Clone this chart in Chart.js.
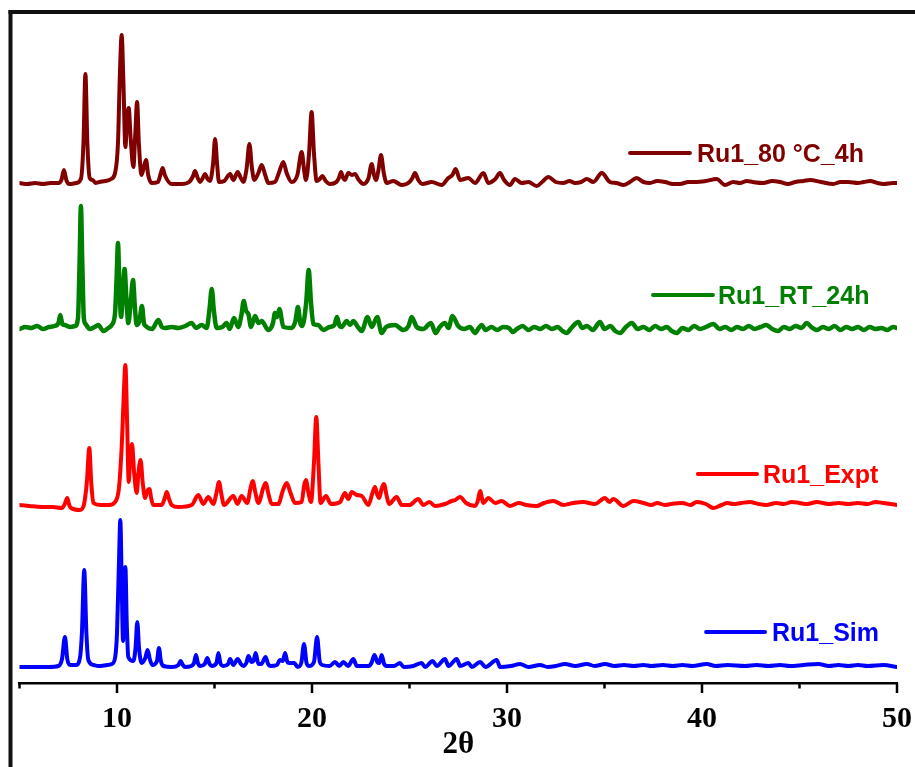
<!DOCTYPE html>
<html>
<head>
<meta charset="utf-8">
<script src="https://cdn.jsdelivr.net/npm/chart.js@4/dist/chart.umd.min.js"></script>
<style>
  html, body { margin: 0; padding: 0; background: #fff; }
  canvas { display: block; }
</style>
</head>
<body>
<canvas id="xrdChart" width="915" height="767"></canvas>
<script>
// Nombres de las series (de abajo hacia arriba)
const seriesNames = ['Ru1_Sim', 'Ru1_Expt', 'Ru1_RT_24h', 'Ru1_80 °C_4h'];
const seriesColors = ['#0000ff', '#ff0000', '#008000', '#800000'];

// Marcas del eje x (2θ)
const majorTicks = [10, 20, 30, 40, 50];
const minorTicks = [5, 15, 25, 35, 45];

// Patrones: [2θ, intensidad apilada (u.a.)]
const simPattern = [
  [5.0,16],[6.5,16],[7.0,17],[7.18,24],[7.33,46],[7.45,24],[7.6,18],[7.9,18],[8.1,25],[8.2,50],[8.32,113],[8.43,50],[8.53,23],
  [8.8,18],[9.04,17],[9.5,18],[9.73,19],[9.9,25],[10.0,50],[10.1,120],[10.17,163],[10.25,90],[10.31,42],[10.37,80],[10.43,116],
  [10.5,60],[10.58,26],[10.84,22],[10.95,35],[11.04,61],[11.13,35],[11.26,20],[11.45,25],[11.57,33],[11.68,24],[11.81,18],
  [12.05,22],[12.15,35],[12.25,22],[12.38,17],[12.8,16],[13.15,18],[13.26,22],[13.38,18],[13.49,16],[13.8,17],[13.95,20],
  [14.05,28],[14.15,20],[14.26,17],[14.5,19],[14.63,25],[14.75,19],[14.86,17],[15.1,20],[15.2,30],[15.3,20],[15.45,17],
  [15.7,19],[15.8,24],[15.97,18],[16.19,24],[16.35,19],[16.48,17],[16.63,20],[16.74,27],[16.9,21],[17.0,22],[17.11,30],
  [17.25,19],[17.4,19],[17.62,26],[17.75,19],[17.85,17],[18.2,18],[18.36,23],[18.5,22],[18.62,30],[18.72,22],[18.82,20],
  [19.09,20],[19.26,16],[19.45,20],[19.59,39],[19.72,20],[19.85,17],[20.1,21],[20.26,46],[20.4,21],[20.53,18],[20.9,17],
  [21.18,21],[21.4,17],[21.61,21],[21.85,17],[22.12,24],[22.3,17],[22.9,17],[23.05,20],[23.2,28],[23.35,21],[23.45,20],
  [23.57,28],[23.7,19],[23.85,17],[24.2,17],[24.51,20],[24.7,16],[25.2,17],[25.62,20],[25.8,16],[26.19,22],[26.4,17],
  [26.82,24],[27.0,17],[27.42,24],[27.6,17],[28.02,20],[28.2,16],[28.62,21],[28.9,16],[29.47,23],[29.65,16],[30.2,17],
  [30.67,19],[31.1,16],[31.69,18],[32.1,16],[32.5,17],[32.97,19],[33.5,17],[34.09,19],[34.5,17],[35.03,19],[35.5,17],
  [36.0,18],[36.5,17],[37.0,18],[37.4,17],[38.0,18],[38.5,17],[39.0,18],[39.5,17],[40.24,19],[40.7,17],[41.3,18],
  [42.2,17],[42.8,18],[43.4,17],[44.0,18],[44.5,17],[45.2,18],[45.97,19],[46.5,17],[47.0,18],[47.5,17],[48.0,18],
  [48.5,17],[49.3,18],[50.0,16]
];

const exptPattern = [
  [5.0,178],[5.5,177],[6.14,176],[6.7,176],[7.16,175],[7.3,178],[7.45,185],[7.55,178],[7.64,175],[8.1,173],[8.3,178],
  [8.45,200],[8.58,235],[8.68,200],[8.79,180],[9.21,178],[9.6,178],[9.9,181],[10.1,195],[10.25,240],[10.35,290],[10.43,318],
  [10.52,260],[10.6,201],[10.68,225],[10.77,239],[10.88,210],[11.01,190],[11.1,210],[11.21,223],[11.32,200],[11.44,185],
  [11.55,192],[11.66,194],[11.76,184],[11.86,178],[12.29,178],[12.45,185],[12.55,191],[12.67,184],[12.8,178],[13.15,176],
  [13.83,178],[14.17,188],[14.43,179],[14.68,186],[14.94,179],[15.1,190],[15.23,201],[15.36,188],[15.49,178],[15.97,187],
  [16.17,179],[16.39,187],[16.68,180],[16.85,195],[16.96,202],[17.1,190],[17.25,180],[17.5,195],[17.62,200],[17.78,188],
  [17.93,179],[18.27,179],[18.5,192],[18.7,200],[18.9,190],[19.13,180],[19.47,181],[19.6,198],[19.69,203],[19.8,192],
  [19.95,181],[20.1,220],[20.22,266],[20.33,220],[20.44,180],[20.72,187],[20.97,179],[21.44,181],[21.69,190],[21.86,184],
  [22.04,191],[22.29,188],[22.55,187],[22.89,178],[23.1,190],[23.23,196],[23.35,188],[23.45,185],[23.58,195],[23.69,199],
  [23.82,188],[23.95,179],[24.34,186],[24.6,178],[25.0,178],[25.45,184],[25.71,178],[26.02,181],[26.31,177],[26.82,179],
  [27.16,182],[27.35,183],[27.59,186],[27.9,180],[28.36,177],[28.5,182],[28.62,192],[28.79,180],[29.04,185],[29.4,180],
  [29.73,182],[30.15,177],[30.6,180],[31.0,178],[31.52,177],[31.9,180],[32.38,182],[32.9,178],[33.4,180],[33.91,181],
  [34.5,179],[35.03,185],[35.25,181],[35.45,184],[35.97,177],[36.48,182],[37.0,180],[37.4,178],[37.7,180],[38.1,178],
  [38.4,179],[39.0,180],[39.4,178],[39.73,181],[40.2,179],[40.58,175],[41.0,178],[41.3,180],[41.6,179],[42.0,180],
  [42.46,181],[42.9,179],[43.3,178],[43.8,180],[44.2,179],[44.6,181],[45.0,180],[45.4,179],[45.88,181],[46.5,179],
  [47.0,180],[47.5,179],[48.0,180],[48.5,179],[48.9,181],[49.3,180],[50.0,178]
];

const rtPattern = [
  [5.0,354],[5.3,356],[5.6,355],[5.9,357],[6.2,354],[6.5,356],[6.8,357],[7.0,360],[7.09,368],[7.2,359],[7.33,358],[7.6,356],
  [7.85,357],[8.0,365],[8.08,420],[8.15,477],[8.22,420],[8.3,365],[8.39,359],[8.6,354],[8.85,356],[9.04,358],[9.3,352],
  [9.55,355],[9.73,358],[9.9,370],[9.98,405],[10.05,440],[10.12,400],[10.21,366],[10.3,390],[10.39,414],[10.48,385],
  [10.58,360],[10.7,380],[10.82,403],[10.92,375],[11.01,358],[11.15,362],[11.28,377],[11.38,360],[11.47,357],[11.8,354],
  [12.12,363],[12.3,356],[12.46,355],[12.8,356],[13.15,355],[13.5,357],[13.83,360],[14.05,355],[14.34,358],[14.6,355],
  [14.75,375],[14.86,394],[14.97,372],[15.11,355],[15.4,356],[15.62,360],[15.78,354],[16.0,365],[16.22,356],[16.38,368],
  [16.5,382],[16.62,372],[16.74,369],[16.87,356],[17.08,367],[17.25,360],[17.42,362],[17.76,353],[18.0,360],[18.1,370],
  [18.2,366],[18.33,374],[18.53,356],[18.96,355],[19.15,362],[19.28,376],[19.4,360],[19.5,357],[19.7,380],[19.83,413],
  [19.95,380],[20.07,359],[20.32,358],[20.58,353],[20.9,356],[21.15,358],[21.28,366],[21.4,358],[21.52,356],[21.78,362],
  [21.95,358],[22.12,362],[22.35,356],[22.55,352],[22.85,366],[23.06,356],[23.35,366],[23.57,350],[23.8,356],[24.26,358],
  [24.68,353],[24.95,357],[25.11,366],[25.37,356],[25.7,354],[26.1,360],[26.34,350],[26.55,356],[26.82,360],[27.0,355],
  [27.2,367],[27.5,357],[27.8,354],[28.1,356],[28.36,350],[28.55,355],[28.7,358],[28.9,353],[29.2,356],[29.5,353],
  [29.8,356],[30.1,355],[30.3,351],[30.5,354],[30.8,357],[31.1,353],[31.4,356],[31.7,354],[32.0,357],[32.3,354],
  [32.6,356],[32.85,352],[33.06,350],[33.3,355],[33.66,361],[33.85,355],[34.1,357],[34.4,353],[34.77,361],[35.0,354],
  [35.3,357],[35.55,352],[35.8,350],[36.1,356],[36.4,360],[36.7,354],[37.0,356],[37.3,353],[37.6,357],[37.9,354],
  [38.2,356],[38.45,352],[38.7,350],[39.0,355],[39.3,353],[39.6,357],[39.9,354],[40.2,356],[40.58,359],[40.9,354],
  [41.2,356],[41.5,353],[41.8,356],[42.1,354],[42.4,357],[42.7,354],[43.0,356],[43.3,358],[43.6,354],[43.9,352],
  [44.2,356],[44.5,354],[44.8,357],[45.1,355],[45.37,360],[45.6,356],[45.9,353],[46.2,356],[46.5,354],[46.8,357],
  [47.1,353],[47.4,356],[47.7,354],[48.0,356],[48.3,353],[48.6,356],[48.9,354],[49.2,355],[49.5,353],[49.8,356],[50.0,355]
];

const heatPattern = [
  [5.0,500],[5.4,499],[5.8,500],[6.2,499],[6.6,500],[7.0,500],[7.15,503],[7.28,513],[7.4,503],[7.55,499],[7.9,500],
  [8.15,504],[8.28,540],[8.38,609],[8.48,540],[8.6,505],[8.75,503],[8.9,500],[9.1,501],[9.4,502],[9.7,504],[9.9,510],
  [10.05,540],[10.15,610],[10.24,648],[10.33,600],[10.43,536],[10.52,565],[10.6,575],[10.7,545],[10.84,516],[10.94,550],
  [11.03,581],[11.12,540],[11.26,508],[11.4,518],[11.49,523],[11.6,508],[11.78,500],[12.1,501],[12.25,510],[12.34,515],
  [12.45,508],[12.8,499],[13.3,499],[13.7,501],[13.9,507],[14.0,512],[14.12,506],[14.26,501],[14.4,505],[14.51,509],
  [14.65,504],[14.77,502],[14.93,520],[15.03,544],[15.13,520],[15.23,501],[15.5,502],[15.8,509],[15.97,503],[16.19,511],
  [16.35,505],[16.48,501],[16.65,515],[16.79,539],[16.92,515],[17.04,503],[17.25,510],[17.42,518],[17.6,508],[17.76,500],
  [18.1,501],[18.3,510],[18.53,521],[18.7,510],[18.96,501],[19.25,508],[19.47,531],[19.6,512],[19.69,503],[19.85,530],
  [19.98,571],[20.1,530],[20.24,502],[20.4,504],[20.53,507],[20.7,502],[20.92,499],[21.25,501],[21.38,505],[21.49,511],
  [21.6,505],[21.69,503],[21.86,510],[22.05,508],[22.2,509],[22.4,503],[22.63,499],[22.9,505],[23.06,519],[23.18,508],
  [23.28,503],[23.4,512],[23.54,528],[23.68,510],[23.83,500],[24.17,502],[24.6,498],[25.0,501],[25.15,505],[25.28,510],
  [25.45,503],[25.66,499],[26.14,501],[26.65,498],[26.99,505],[27.2,508],[27.37,514],[27.59,503],[28.02,505],[28.36,500],
  [28.79,510],[29.04,500],[29.4,504],[29.64,510],[29.85,503],[30.15,498],[30.41,504],[30.75,500],[31.1,501],[31.52,497],
  [31.8,501],[32.12,506],[32.5,501],[32.89,500],[33.2,502],[33.49,500],[33.8,501],[34.09,504],[34.43,501],[34.86,510],
  [35.28,501],[35.6,500],[35.97,498],[36.3,501],[36.65,505],[37.0,501],[37.33,500],[37.7,502],[38.1,501],[38.5,499],
  [38.87,499],[39.3,501],[39.73,501],[40.2,502],[40.75,504],[41.18,498],[41.6,501],[41.95,500],[42.3,502],[42.6,501],
  [43.14,500],[43.6,502],[44.0,501],[44.4,499],[44.8,501],[45.2,502],[45.54,503],[46.1,501],[46.73,499],[47.1,501],
  [47.5,501],[48.0,500],[48.3,501],[48.62,502],[49.0,500],[49.3,499],[49.81,500],[50.0,500]
];

const patterns = [simPattern, exptPattern, rtPattern, heatPattern];

// Posición de las etiquetas junto a cada curva (en unidades 2θ / intensidad)
const legendLayout = [
  { from: 40.21, to: 43.23, text: 43.59, level: 51 },
  { from: 39.79, to: 42.82, text: 43.13, level: 209 },
  { from: 37.49, to: 40.56, text: 40.82, level: 388 },
  { from: 36.31, to: 39.38, text: 39.74, level: 530 }
];

const serif = "'Liberation Serif', 'Times New Roman', serif";
const sans = "'Liberation Sans', Arial, sans-serif";

// Marco exterior de la figura (recortado)
const framePlugin = {
  id: 'frame',
  beforeDraw(chart) {
    const ctx = chart.ctx;
    ctx.save();
    ctx.fillStyle = '#111';
    ctx.fillRect(8.5, 10, 4, chart.height - 10);
    ctx.fillRect(8.5, 10, chart.width - 8.5, 4);
    ctx.restore();
  }
};

// Marcas del eje x: mayores largas, menores cortas
const tickPlugin = {
  id: 'ticks2theta',
  afterDraw(chart) {
    const xs = chart.scales.x;
    const ctx = chart.ctx;
    const y0 = xs.top;
    ctx.save();
    ctx.strokeStyle = '#000';
    ctx.lineWidth = 2.5;
    const mark = (v, len) => {
      const px = xs.getPixelForValue(v);
      ctx.beginPath();
      ctx.moveTo(px, y0);
      ctx.lineTo(px, y0 + len);
      ctx.stroke();
    };
    majorTicks.forEach(v => mark(v, 10));
    minorTicks.forEach(v => mark(v, 5.5));
    ctx.restore();
  }
};

// Etiquetas de cada serie dibujadas junto a su curva
const labelPlugin = {
  id: 'curveLabels',
  afterDatasetsDraw(chart) {
    const xs = chart.scales.x;
    const ys = chart.scales.y;
    const ctx = chart.ctx;
    ctx.save();
    ctx.font = 'bold 25px ' + sans;
    ctx.textBaseline = 'alphabetic';
    ctx.textAlign = 'left';
    legendLayout.forEach((l, i) => {
      const y = ys.getPixelForValue(l.level);
      ctx.strokeStyle = seriesColors[i];
      ctx.fillStyle = seriesColors[i];
      ctx.lineWidth = 4;
      ctx.lineCap = 'round';
      ctx.beginPath();
      ctx.moveTo(xs.getPixelForValue(l.from), y);
      ctx.lineTo(xs.getPixelForValue(l.to), y);
      ctx.stroke();
      ctx.fillText(seriesNames[i], xs.getPixelForValue(l.text), y + 9);
    });
    ctx.restore();
  }
};

const ctx = document.getElementById('xrdChart').getContext('2d');
new Chart(ctx, {
  type: 'line',
  data: {
    datasets: patterns.map((p, i) => ({
      label: seriesNames[i],
      data: p.map(([x, y]) => ({ x, y })),
      borderColor: seriesColors[i],
      borderWidth: i === 2 ? 4.5 : 4,
      pointRadius: 0,
      cubicInterpolationMode: 'monotone',
      borderJoinStyle: 'round',
      borderCapStyle: 'round',
      fill: false
    }))
  },
  options: {
    responsive: false,
    animation: false,
    layout: { padding: { left: 19.5, right: 18, top: 12, bottom: 0 } },
    plugins: { legend: { display: false }, tooltip: { enabled: false } },
    scales: {
      x: {
        type: 'linear',
        min: 5,
        max: 50,
        grid: { display: false, drawTicks: false },
        border: { display: true, color: '#000', width: 2.5 },
        ticks: {
          stepSize: 5,
          maxRotation: 0,
          color: '#000',
          padding: 18,
          font: { family: serif, size: 30, weight: 'bold' },
          callback: v => (majorTicks.includes(v) ? String(v) : '')
        },
        title: {
          display: true,
          text: '2θ',
          color: '#000',
          font: { family: serif, size: 31, weight: 'bold' },
          padding: { top: 0, bottom: 3 }
        },
        afterFit: scale => {
          scale.height = 84;
          scale.paddingLeft = 0;
          scale.paddingRight = 0;
        }
      },
      y: { display: false, min: 0, max: 671 }
    }
  },
  plugins: [framePlugin, tickPlugin, labelPlugin]
});
</script>
</body>
</html>
